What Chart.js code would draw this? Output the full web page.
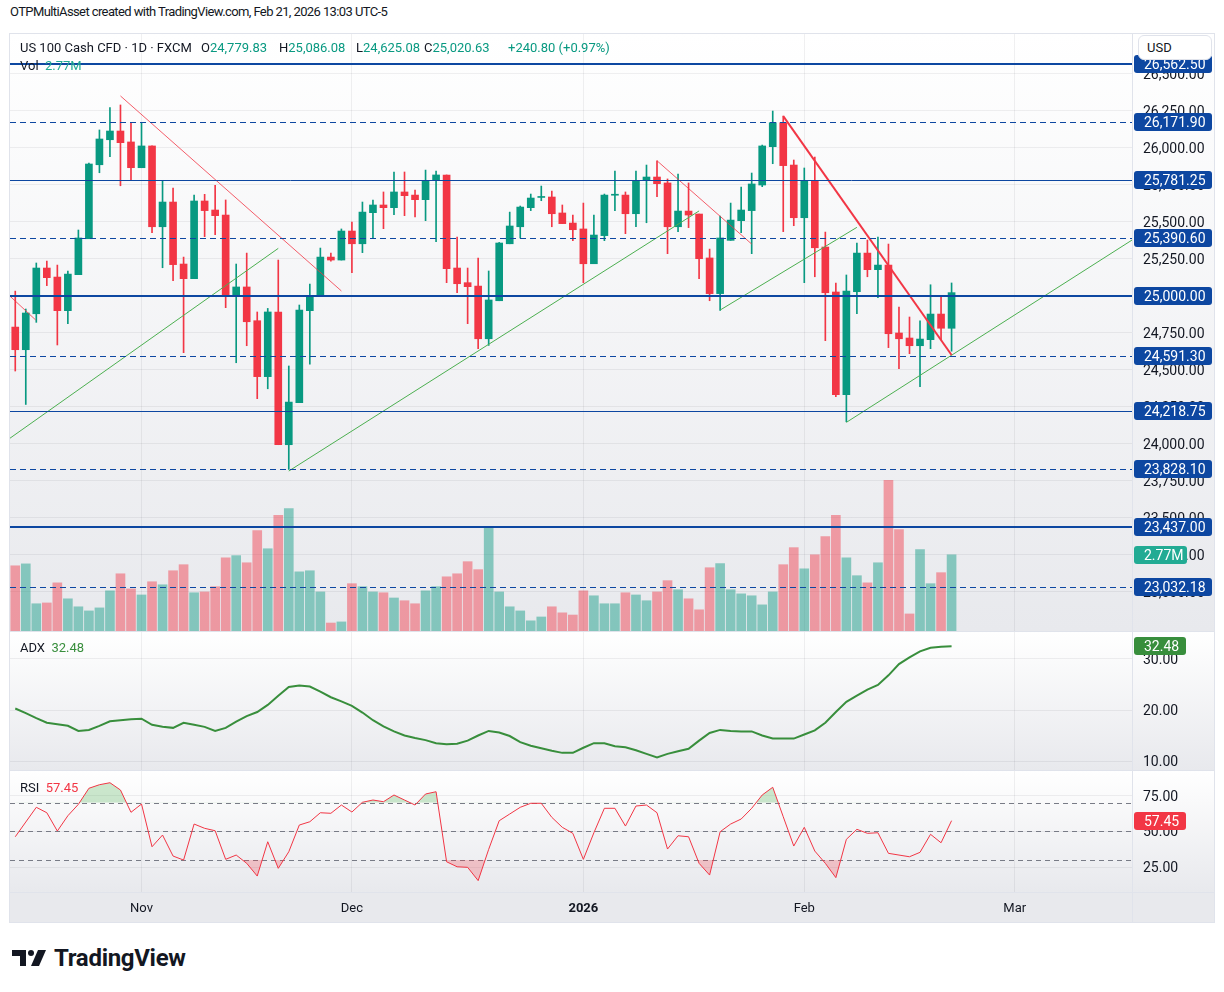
<!DOCTYPE html>
<html>
<head>
<meta charset="utf-8">
<script src="https://cdn.jsdelivr.net/npm/chart.js@4.4.1/dist/chart.umd.min.js"></script>
<style>
  body { margin: 0; background: #fff; font-family: Roboto, "Liberation Sans", sans-serif; color: #131722; }
  #page { position: relative; width: 1224px; height: 992px; overflow: hidden; background: #fff; }
  .abs { position: absolute; white-space: nowrap; font-size: 13px; line-height: 16px; }
  #frame { position: absolute; left: 9px; top: 33px; width: 1206px; height: 890px; background: #e0e3eb; }
  canvas { position: absolute; left: 1px; }
  .up { color: #089981; }
  .vol { color: #22ab94; }
  .adx { color: #388e3c; }
  .rsi { color: #f23645; }
  #usd { position: absolute; left: 1138px; top: 35px; width: 74px; height: 25px; background: #fff; border: 1px solid #e0e3eb;
         border-radius: 6px; box-sizing: border-box; font-size: 13px; line-height: 23px; padding-left: 8px; }
  #logo { position: absolute; left: 12px; top: 944px; }
  #brand { position: absolute; left: 54px; top: 944px; font-size: 24px; font-weight: bold; line-height: 28px; letter-spacing: -0.3px; }
</style>
</head>
<body>
<div id="page">
  <div class="abs" style="left:10px;top:4px;letter-spacing:-0.6px;">OTPMultiAsset created with TradingView.com, Feb 21, 2026 13:03 UTC-5</div>
  <div id="frame">
    <canvas id="cMain" width="1204" height="597" style="top:1px"></canvas>
    <canvas id="cAdx" width="1204" height="138" style="top:599px"></canvas>
    <canvas id="cRsi" width="1204" height="151" style="top:738px"></canvas>
  </div>
  <div class="abs" style="left:20px;top:40px;">US 100 Cash CFD · 1D · FXCM</div>
  <div class="abs" style="left:201px;top:40px;">O<span class="up" id="lgO"></span></div>
  <div class="abs" style="left:279px;top:40px;">H<span class="up" id="lgH"></span></div>
  <div class="abs" style="left:356px;top:40px;">L<span class="up" id="lgL"></span></div>
  <div class="abs" style="left:424px;top:40px;">C<span class="up" id="lgC"></span></div>
  <div class="abs up" style="left:508px;top:40px;">+240.80 (+0.97%)</div>
  <div class="abs" style="left:20px;top:58px;">Vol&nbsp;&nbsp;<span class="vol" id="lgV"></span></div>
  <div class="abs" style="left:20px;top:640px;">ADX&nbsp;&nbsp;<span class="adx" id="lgA"></span></div>
  <div class="abs" style="left:20px;top:780px;">RSI&nbsp;&nbsp;<span class="rsi" id="lgR"></span></div>
  <div id="usd">USD</div>
  <svg id="logo" width="36" height="28" viewBox="0 0 36 28">
    <path d="M0 6h14v16h-6v-10h-8z" fill="#131722"/>
    <circle cx="19" cy="9" r="3" fill="#131722"/>
    <path d="M26 6h8l-7 16h-8z" fill="#131722"/>
  </svg>
  <div id="brand">TradingView</div>
</div>
<script>
// daily candles, Oct 16 2025 .. Feb 20 2026
const opens = [24788, 24635, 24878, 25187, 25126, 24899, 25142, 25385, 25885, 26054,
  26113, 26039, 25865, 26012, 25466, 25633, 25214, 25115, 25640, 25579,
  25545, 25000, 25059, 24831, 24453, 24890, 23993, 24277, 24899, 25000,
  25261, 25241, 25437, 25351, 25561, 25613, 25595, 25701, 25680, 25649,
  25784, 25816, 25187, 25088, 25065, 24709, 24966, 25351, 25466, 25595,
  25664, 25667, 25559, 25491, 25451, 25216, 25406, 25679, 25680, 25554,
  25782, 25802, 25762, 25466, 25572, 25552, 25255, 25014, 25374, 25507,
  25575, 25748, 26007, 26169, 25883, 25527, 25777, 25329, 25025, 24331,
  25027, 25288, 25176, 25207, 24748, 24714, 24662, 24703, 24876, 24779.83];
const highs = [25031, 24910, 25221, 25234, 25207, 25167, 25444, 25897, 26120, 26271,
  26289, 26167, 26167, 26012, 25777, 25728, 25261, 25680, 25685, 25746,
  25647, 25214, 25288, 24890, 24914, 25241, 24525, 24937, 25079, 25322,
  25288, 25451, 25498, 25633, 25647, 25701, 25836, 25836, 25714, 25849,
  25843, 25816, 25397, 25187, 25255, 25167, 25360, 25565, 25606, 25687,
  25741, 25707, 25613, 25545, 25626, 25545, 25687, 25843, 25701, 25843,
  25883, 25912, 25789, 25822, 25762, 25552, 25315, 25538, 25626, 25734,
  25829, 26018, 26248, 26214, 25917, 25863, 25937, 25430, 25086, 25140,
  25356, 25376, 25397, 25349, 24923, 24856, 24831, 25074, 24993, 25086.08];
const lows = [24491, 24265, 24820, 25068, 24667, 24811, 25142, 25385, 25831, 25940,
  25743, 25782, 25865, 25426, 25189, 25101, 24615, 25115, 25399, 25412,
  24919, 24547, 24662, 24304, 24371, 23993, 23826, 24277, 24538, 25000,
  25234, 25241, 25155, 25291, 25385, 25453, 25547, 25541, 25532, 25507,
  25365, 25088, 25020, 24811, 24642, 24664, 24966, 25351, 25390, 25575,
  25642, 25466, 25487, 25372, 25088, 25216, 25372, 25575, 25419, 25466,
  25493, 25669, 25284, 25433, 25460, 25115, 24966, 24901, 25374, 25426,
  25284, 25737, 25892, 25433, 25473, 25088, 25128, 24696, 24317, 24148,
  24878, 25128, 24986, 24649, 24507, 24608, 24385, 24642, 24703, 24625.08];
const closes = [24635, 24883, 25187, 25122, 24899, 25146, 25390, 25890, 26059, 26113,
  26034, 25865, 26012, 25466, 25633, 25210, 25115, 25640, 25575, 25541,
  25000, 25059, 24824, 24453, 24890, 23993, 24281, 24903, 24993, 25261,
  25241, 25437, 25351, 25565, 25613, 25595, 25701, 25676, 25649, 25777,
  25816, 25182, 25081, 25061, 24709, 24971, 25356, 25471, 25599, 25660,
  25668, 25554, 25487, 25446, 25216, 25410, 25680, 25681, 25554, 25777,
  25802, 25757, 25466, 25572, 25545, 25250, 25014, 25390, 25511, 25579,
  25755, 26012, 26169, 25879, 25527, 25777, 25324, 25020, 24331, 25032,
  25288, 25176, 25207, 24743, 24709, 24662, 24707, 24876, 24780, 25020.63];
// volume in millions
const volumes = [2.37, 2.44, 0.99, 1.02, 1.75, 1.17, 0.88, 0.73, 0.84, 1.46,
  2.08, 1.53, 1.31, 1.79, 1.68, 2.19, 2.41, 1.39, 1.42, 1.61,
  2.66, 2.74, 2.48, 3.65, 2.99, 4.20, 4.45, 2.15, 2.19, 1.42,
  0.29, 0.33, 1.72, 1.61, 1.42, 1.39, 1.20, 1.10, 0.99, 1.46,
  1.61, 1.97, 2.08, 2.52, 2.23, 3.80, 1.42, 0.88, 0.73, 0.37,
  0.51, 0.88, 0.66, 0.58, 1.46, 1.28, 0.99, 0.99, 1.39, 1.31,
  1.10, 1.42, 1.83, 1.50, 1.17, 0.77, 2.30, 2.45, 1.50, 1.35,
  1.28, 0.95, 1.42, 2.41, 3.03, 2.26, 2.77, 3.43, 4.20, 2.66,
  2.01, 1.75, 2.48, 5.48, 3.69, 0.62, 2.96, 1.72, 2.12, 2.77];
const adxValues = [20.3, 19.4, 18.4, 17.5, 17.2, 16.9, 15.9, 16.1, 16.9, 17.8,
  18.0, 18.2, 18.3, 17.1, 16.7, 16.5, 17.5, 17.1, 16.7, 15.9,
  16.5, 17.7, 18.8, 19.6, 21.0, 22.8, 24.5, 24.8, 24.6, 23.6,
  22.5, 21.7, 20.8, 19.5, 18.0, 16.8, 15.8, 15.0, 14.5, 14.1,
  13.5, 13.3, 13.4, 14.0, 15.0, 15.9, 15.6, 14.9, 13.7, 13.0,
  12.5, 12.0, 11.6, 11.6, 12.6, 13.5, 13.5, 12.9, 12.7, 12.1,
  11.4, 10.7, 11.4, 11.9, 12.4, 14.0, 15.5, 16.1, 15.9, 15.8,
  15.8, 15.0, 14.4, 14.4, 14.4, 15.2, 16.0, 17.5, 19.6, 21.6,
  22.8, 24.0, 24.9, 26.8, 29.0, 30.3, 31.5, 32.2, 32.4, 32.48];
const rsiValues = [46.2, 56.5, 66.8, 63.0, 50.2, 60.9, 68.9, 80.1, 82.6, 84.0,
  78.9, 63.3, 69.1, 39.2, 47.4, 32.7, 29.9, 55.1, 52.1, 50.4,
  30.4, 33.4, 27.6, 18.7, 42.7, 24.1, 35.7, 54.4, 56.7, 63.0,
  62.6, 68.4, 63.5, 70.3, 71.9, 70.7, 75.4, 71.9, 68.4, 76.1,
  77.7, 28.7, 25.2, 24.8, 15.5, 37.4, 57.4, 62.1, 66.8, 69.6,
  69.6, 59.8, 52.8, 48.6, 30.4, 49.0, 66.1, 66.1, 53.7, 67.7,
  68.4, 63.0, 37.6, 46.9, 46.2, 27.6, 19.4, 49.7, 55.1, 58.6,
  66.1, 75.4, 80.8, 60.2, 39.7, 52.8, 36.2, 27.6, 17.6, 44.4,
  51.4, 48.6, 49.0, 34.6, 33.4, 32.2, 35.3, 47.9, 42.0, 57.45];

// horizontal levels and trend lines drawn on the chart
const levels = [26562.50, 26171.90, 25781.25, 25390.60, 25000.00, 24591.30, 24218.75, 23828.10, 23437.00, 23032.18];
const redTrends = [[-0.5, 24997, 1.94, 24836], [10, 26350, 31, 25032], [61, 25912, 70, 25349]];
const mainTrend = [73, 26214, 89, 24599];
const greenTrends = [[-0.5, 24037, 25, 25320], [26, 23815, 65, 25573], [67, 24903, 80, 25462], [79, 24144, 106.15, 25376]];

// axis ticks
const priceTicks = [23000, 23250, 23500, 23750, 24000, 24250, 24500, 24750, 25000, 25250, 25500, 25750, 26000, 26250, 26500];
const adxTicks = [10, 20, 30];
const rsiTicks = [25, 50, 75];
const rsiBands = [70, 50, 30];
const monthTicks = [12, 32, 54, 75, 95];
const monthLabels = ['Nov', 'Dec', '2026', 'Feb', 'Mar'];

// styles
const UP = '#089981', DOWN = '#f23645';
const BLUE = '#0d47a1';
const GRID = 'rgba(42, 46, 57, 0.07)';
const SEP = '#e0e3eb';
const levelWidth = [2, 1, 1, 1, 2, 1, 1, 1, 2, 1];
const levelDashed = [false, true, false, true, false, true, false, true, false, true];
const X_MIN = -0.5, X_MAX = 106.15;
const FONT = "Roboto, 'Liberation Sans', sans-serif";
const AXIS_FONT = '14px ' + FONT;

Chart.defaults.font.family = FONT;
Chart.defaults.font.size = 13;
Chart.defaults.color = '#131722';

const last = opens.length - 1;
const fmt = v => v.toLocaleString('en-US', { minimumFractionDigits: 2, maximumFractionDigits: 2 });
document.getElementById('lgO').textContent = fmt(opens[last]);
document.getElementById('lgH').textContent = fmt(highs[last]);
document.getElementById('lgL').textContent = fmt(lows[last]);
document.getElementById('lgC').textContent = fmt(closes[last]);
document.getElementById('lgV').textContent = volumes[last].toFixed(2) + 'M';
document.getElementById('lgA').textContent = adxValues[last].toFixed(2);
document.getElementById('lgR').textContent = rsiValues[last].toFixed(2);

const idx = opens.map((_, i) => i);
const candleColors = idx.map(i => closes[i] >= opens[i] ? UP : DOWN);
const volColors = idx.map(i => closes[i] >= opens[i] ? 'rgba(8, 153, 129, 0.45)' : 'rgba(242, 54, 69, 0.45)');

function drawTag(ctx, x, y, text, color, w) {
    ctx.fillStyle = color;
    ctx.beginPath();
    ctx.roundRect(x, Math.round(y) - 9, w, 18, 3);
    ctx.fill();
    ctx.fillStyle = '#fff';
    ctx.font = AXIS_FONT;
    ctx.textAlign = 'left';
    ctx.textBaseline = 'middle';
    ctx.fillText(text, x + 10, Math.round(y) + 1);
}

// pane background gradient, price labels on the right axis, separators
const bgPlugin = {
    id: 'bg',
    beforeDraw(chart) {
        const { ctx, chartArea: a, width, height } = chart;
        const g = ctx.createLinearGradient(0, a.top, 0, a.bottom);
        g.addColorStop(0, '#ffffff');
        g.addColorStop(1, '#e8e9ed');
        ctx.save();
        ctx.fillStyle = g;
        ctx.fillRect(0, 0, width, a.bottom);
        if (a.bottom < height) {
            ctx.fillStyle = '#e8e9ed';
            ctx.fillRect(0, a.bottom, width, height - a.bottom);
        }
        ctx.restore();
    },
    beforeDatasetsDraw(chart) {
        const { ctx, chartArea: a, scales } = chart;
        ctx.save();
        ctx.font = AXIS_FONT;
        ctx.fillStyle = '#131722';
        ctx.textAlign = 'left';
        ctx.textBaseline = 'middle';
        scales.y.ticks.forEach(t => {
            ctx.fillText(fmt(t.value), a.right + 11, Math.round(scales.y.getPixelForValue(t.value)) + 1);
        });
        ctx.restore();
    },
    afterDraw(chart) {
        const { ctx, chartArea: a, height, width } = chart;
        ctx.save();
        ctx.strokeStyle = SEP;
        ctx.lineWidth = 1;
        ctx.beginPath();
        ctx.moveTo(a.right + 0.5, 0);
        ctx.lineTo(a.right + 0.5, height);
        if (a.bottom < height) {
            ctx.moveTo(0, a.bottom + 0.5);
            ctx.lineTo(width, a.bottom + 0.5);
        }
        ctx.stroke();
        ctx.restore();
    }
};

const levelPlugin = {
    id: 'levels',
    afterDatasetsDraw(chart) {
        const { ctx, chartArea: a, scales } = chart;
        ctx.save();
        levels.forEach((v, k) => {
            const y = Math.round(scales.y.getPixelForValue(v)) + (levelWidth[k] % 2 ? 0.5 : 0);
            ctx.strokeStyle = BLUE;
            ctx.lineWidth = levelWidth[k];
            ctx.setLineDash(levelDashed[k] ? [6, 4] : []);
            ctx.beginPath();
            ctx.moveTo(a.left, y);
            ctx.lineTo(a.right, y);
            ctx.stroke();
        });
        ctx.setLineDash([]);
        levels.forEach(v => drawTag(ctx, a.right + 2, scales.y.getPixelForValue(v), fmt(v), BLUE, 78));
        drawTag(ctx, a.right + 2, scales.yv.getPixelForValue(volumes[last]), volumes[last].toFixed(2) + 'M', '#22ab94', 53);
        ctx.restore();
    }
};

function lastTag(color) {
    return {
        id: 'lastTag',
        afterDatasetsDraw(chart) {
            const { ctx, chartArea: a, scales } = chart;
            const v = chart.data.datasets[0].data[last].y;
            ctx.save();
            drawTag(ctx, a.right + 2, scales.y.getPixelForValue(v), v.toFixed(2), color, 52);
            ctx.restore();
        }
    };
}

const bandPlugin = {
    id: 'bands',
    beforeDatasetsDraw(chart) {
        const { ctx, chartArea: a, scales } = chart;
        ctx.save();
        ctx.strokeStyle = '#787b86';
        ctx.lineWidth = 1;
        ctx.setLineDash([5, 4]);
        rsiBands.forEach(v => {
            const y = Math.round(scales.y.getPixelForValue(v)) + 0.5;
            ctx.beginPath();
            ctx.moveTo(a.left, y);
            ctx.lineTo(a.right, y);
            ctx.stroke();
        });
        ctx.restore();
    }
};

function xScale(showLabels) {
    return {
        type: 'linear', min: X_MIN, max: X_MAX, offset: false,
        afterBuildTicks: s => { s.ticks = monthTicks.map(v => ({ value: v })); },
        ticks: {
            display: showLabels, padding: 9, maxRotation: 0, autoSkip: false,
            callback: v => monthLabels[monthTicks.indexOf(v)],
            font: ctx => ({ size: 13, weight: ctx.tick && ctx.tick.value === 54 ? 'bold' : 'normal' })
        },
        grid: { color: GRID, drawTicks: false, offset: false },
        border: { display: false },
        afterFit: s => { s.height = showLabels ? 30 : 0; }
    };
}

// right axis: labels drawn by bgPlugin so the chart area keeps its full height
function yScale(min, max, ticks) {
    return {
        position: 'right', min: min, max: max,
        afterBuildTicks: s => { s.ticks = ticks.map(v => ({ value: v })); },
        ticks: { display: false },
        grid: { color: GRID, drawTicks: false },
        border: { display: false },
        afterFit: s => { s.width = 82; }
    };
}

const baseOptions = {
    responsive: false,
    animation: false,
    events: [],
    layout: { padding: 0 },
    plugins: { legend: { display: false }, tooltip: { enabled: false } }
};

function trendSet(t, color, width) {
    return {
        type: 'line', data: [{ x: t[0], y: t[1] }, { x: t[2], y: t[3] }],
        borderColor: color, borderWidth: width, pointRadius: 0, yAxisID: 'y', order: 0
    };
}

// price + volume pane
new Chart(document.getElementById('cMain'), {
    type: 'bar',
    data: {
        datasets: [
            ...redTrends.map(t => trendSet(t, 'rgba(242, 54, 69, 0.8)', 1)),
            trendSet(mainTrend, '#f23645', 2),
            ...greenTrends.map(t => trendSet(t, '#4caf50', 1)),
            {
                data: idx.map(i => ({ x: i, y: [opens[i], closes[i]] })),
                backgroundColor: candleColors, barThickness: 7, minBarLength: 1,
                grouped: false, yAxisID: 'y', order: 1
            },
            {
                data: idx.map(i => ({ x: i, y: [lows[i], highs[i]] })),
                backgroundColor: candleColors, barThickness: 1,
                grouped: false, yAxisID: 'y', order: 2
            },
            {
                data: idx.map(i => ({ x: i, y: volumes[i] })),
                backgroundColor: volColors, barThickness: 9,
                grouped: false, yAxisID: 'yv', order: 3
            }
        ]
    },
    options: {
        ...baseOptions,
        scales: {
            x: xScale(false),
            y: yScale(22734, 26768.6, priceTicks),
            yv: { display: false, min: 0, max: 21.7 }
        }
    },
    plugins: [bgPlugin, levelPlugin]
});

// ADX pane
new Chart(document.getElementById('cAdx'), {
    type: 'line',
    data: {
        datasets: [{
            data: idx.map(i => ({ x: i, y: adxValues[i] })),
            borderColor: '#388e3c', borderWidth: 2, pointRadius: 0, tension: 0
        }]
    },
    options: {
        ...baseOptions,
        scales: { x: xScale(false), y: yScale(8.24, 35.29, adxTicks) }
    },
    plugins: [bgPlugin, lastTag('#388e3c')]
});

// RSI pane with time axis
const rsiPts = idx.map(i => ({ x: i, y: rsiValues[i] }));
new Chart(document.getElementById('cRsi'), {
    type: 'line',
    data: {
        datasets: [
            { data: rsiPts, borderColor: '#f23645', borderWidth: 1, pointRadius: 0, fill: false, order: 0 },
            {
                data: rsiPts, borderColor: 'rgba(0,0,0,0)', borderWidth: 0, pointRadius: 0, order: 1,
                fill: { target: { value: 70 }, above: 'rgba(76, 175, 80, 0.28)', below: 'rgba(0,0,0,0)' }
            },
            {
                data: rsiPts, borderColor: 'rgba(0,0,0,0)', borderWidth: 0, pointRadius: 0, order: 2,
                fill: { target: { value: 30 }, above: 'rgba(0,0,0,0)', below: 'rgba(242, 54, 69, 0.25)' }
            }
        ]
    },
    options: {
        ...baseOptions,
        scales: { x: xScale(true), y: yScale(7.55, 92.2, rsiTicks) }
    },
    plugins: [bgPlugin, bandPlugin, lastTag('#f23645')]
});
</script>
</body>
</html>
